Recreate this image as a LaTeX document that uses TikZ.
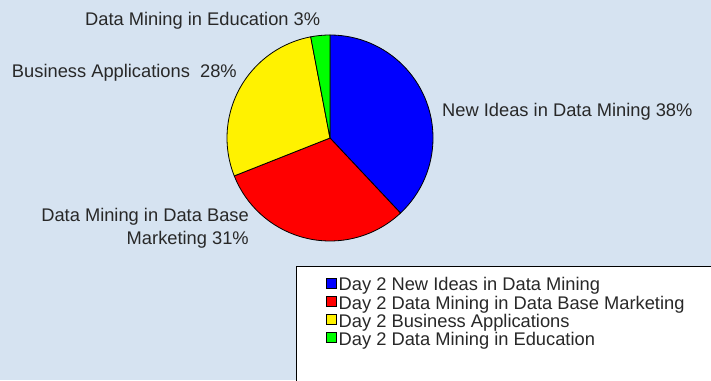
\documentclass[tikz,border=0pt]{standalone}
\usepackage{fontspec}
\setmainfont{Liberation Sans}
\definecolor{chartbg}{RGB}{214,227,241}
\definecolor{labelgray}{RGB}{40,40,40}
\tikzset{
	pielabel/.style={font=\fontsize{18.3}{23}\selectfont, text=labelgray, inner sep=0pt},
	legkey/.style={draw=black, line width=0.8pt, minimum size=10pt, inner sep=0pt},
}

\begin{document}
\begin{tikzpicture}[x=1pt, y=1pt]
			\useasboundingbox (0,0) rectangle (711,380);
			\clip (0,0) rectangle (711,380);
			\fill[chartbg] (0,0) rectangle (711,380);

			% pie
			\coordinate (center) at (330,242);
			\foreach \a/\b/\c in {90/-46.8/blue, -46.8/-158.4/red, -158.4/-259.2/yellow, -259.2/-270/green}
				\filldraw[fill=\c, draw=black, line width=0.8pt, line join=round]
					(center) -- ++(\a:103) arc (\a:\b:103) -- cycle;

			\node[pielabel, anchor=base west] (educ) at (85,354) {Data Mining in Education 3\%};
			\node[pielabel, anchor=base east] (busi) at (237,302) {Business Applications\ \ 28\%};
			\node[pielabel, anchor=base west] (ideas) at (442,263) {New Ideas in Data Mining 38\%};
			\node[pielabel, anchor=base east, align=right] (market) at (249,135)
				{Data Mining in Data Base\\Marketing 31\%};

			% legend
			\filldraw[fill=white, draw=black, line width=1pt] (296.5,113) rectangle (730,-20);
			\foreach \i/\y/\c/\t in {1/89/blue/New Ideas in Data Mining,
					2/71/red/Data Mining in Data Base Marketing,
					3/53/yellow/Business Applications,
					4/35/green/Data Mining in Education} {
				\node[pielabel, anchor=base west] (leg\i) at (338.5,\y) {Day 2 \t};
				\node[legkey, fill=\c, anchor=south east] (key\i) at ([xshift=-2pt, yshift=2pt]leg\i.base west) {};
			}
		\end{tikzpicture}
\end{document}
